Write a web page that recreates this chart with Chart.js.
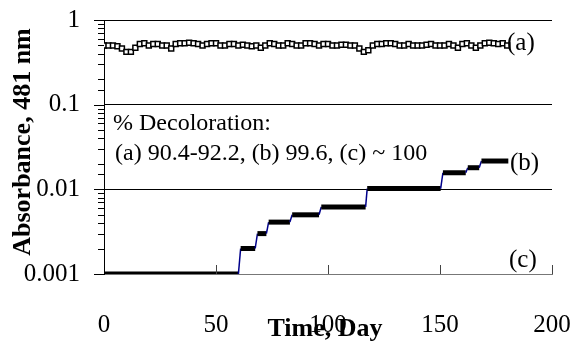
<!DOCTYPE html>
<html>
<head>
<meta charset="utf-8">
<script src="https://cdn.jsdelivr.net/npm/chart.js@4"></script>
<style>
  html, body { margin: 0; padding: 0; background: #fff; }
</style>
</head>
<body>
<canvas id="chart" width="574" height="353"></canvas>
<script>
// Series (a): absorbance over time, roughly flat near 0.5
const daysA = [0, 2, 4, 6, 8, 10, 12, 14, 16, 18, 20, 22, 24, 26, 28, 30, 32, 34, 36, 38,
  40, 42, 44, 46, 48, 50, 52, 54, 56, 58, 60, 62, 64, 66, 68, 70, 72, 74, 76, 78,
  80, 82, 84, 86, 88, 90, 92, 94, 96, 98, 100, 102, 104, 106, 108, 110, 112, 114, 116, 118,
  120, 122, 124, 126, 128, 130, 132, 134, 136, 138, 140, 142, 144, 146, 148, 150, 152, 154, 156, 158,
  160, 162, 164, 166, 168, 170, 172, 174, 176, 178, 180];
const absA = [0.5, 0.5, 0.5, 0.49, 0.46, 0.42, 0.42, 0.47, 0.52, 0.53, 0.5, 0.52, 0.52, 0.5, 0.5, 0.46, 0.52, 0.53, 0.53, 0.54,
  0.53, 0.52, 0.5, 0.52, 0.53, 0.53, 0.5, 0.5, 0.52, 0.52, 0.5, 0.51, 0.5, 0.49, 0.5, 0.47, 0.5, 0.53, 0.52, 0.5,
  0.5, 0.53, 0.52, 0.5, 0.5, 0.53, 0.53, 0.52, 0.5, 0.52, 0.52, 0.5, 0.5, 0.51, 0.51, 0.5, 0.5, 0.46, 0.42, 0.44,
  0.5, 0.52, 0.52, 0.53, 0.53, 0.52, 0.5, 0.5, 0.52, 0.5, 0.5, 0.5, 0.51, 0.52, 0.5, 0.5, 0.5, 0.52, 0.5, 0.47,
  0.52, 0.53, 0.5, 0.47, 0.5, 0.53, 0.54, 0.53, 0.52, 0.53, 0.5];

// Series (b): stepwise rise from 0.001
const daysB = [0, 60, 61, 67.5, 68.5, 72.5, 73.5, 83, 84, 96, 97, 116.8, 117.5, 150.3, 151.3, 161.5, 162.4, 167.5, 168.5, 180.5];
const absB = [0.001, 0.001, 0.002, 0.002, 0.003, 0.003, 0.0041, 0.0041, 0.005, 0.005, 0.0062, 0.0062,
  0.0102, 0.0102, 0.0157, 0.0157, 0.018, 0.018, 0.0216, 0.0216];

const xTicks = [0, 50, 100, 150, 200];
const yTicks = [0.001, 0.01, 0.1, 1];

function isDecade(v) {
  const l = Math.log10(v);
  return Math.abs(l - Math.round(l)) < 1e-6;
}

const FONT = '"Liberation Serif", "Times New Roman", serif';

// extra drawing: tick marks, notes and axis titles
const extras = {
  id: 'extras',
  afterDraw(chart) {
    const { ctx, chartArea } = chart;
    const x = chart.scales.x;
    const y = chart.scales.y;
    ctx.save();
    ctx.lineWidth = 1;

    // x ticks point up into the plot
    ctx.strokeStyle = '#444';
    xTicks.forEach(v => {
      if (v === 0) return;
      const px = Math.round(x.getPixelForValue(v)) + 0.5;
      ctx.beginPath();
      ctx.moveTo(px, chartArea.bottom);
      ctx.lineTo(px, chartArea.bottom - 9);
      ctx.stroke();
    });

    // y ticks, long at decades, short in between
    ctx.strokeStyle = '#000';
    y.ticks.forEach(t => {
      const py = Math.round(y.getPixelForValue(t.value)) + 0.5;
      const len = isDecade(t.value) ? 10 : 6;
      ctx.beginPath();
      ctx.moveTo(chartArea.left - len, py);
      ctx.lineTo(chartArea.left, py);
      ctx.stroke();
    });

    ctx.fillStyle = '#000';
    ctx.textBaseline = 'middle';
    ctx.textAlign = 'left';
    ctx.font = '24px ' + FONT;
    ctx.fillText('% Decoloration:', 113, 124);
    ctx.fillText('(a) 90.4-92.2, (b) 99.6, (c) ~ 100', 115, 154);

    ctx.font = '25px ' + FONT;
    ctx.fillText('(a)', 507, 43);
    ctx.fillText('(b)', 510, 163);
    ctx.fillText('(c)', 509, 260);

    ctx.font = 'bold 26px ' + FONT;
    ctx.textAlign = 'center';
    ctx.fillText('Time, Day', 325, 329);
    ctx.translate(23, 142);
    ctx.rotate(-Math.PI / 2);
    ctx.fillText('Absorbance, 481 nm', 0, 0);
    ctx.restore();
  }
};

new Chart(document.getElementById('chart'), {
  type: 'line',
  data: {
    datasets: [
      {
        label: '(a)',
        data: daysA.map((d, i) => ({ x: d, y: absA[i] })),
        borderColor: '#000',
        borderWidth: 2.5,
        pointStyle: 'rect',
        pointRadius: 3.5,
        pointBorderWidth: 1.5,
        pointBorderColor: '#000',
        pointBackgroundColor: '#fff',
        tension: 0
      },
      {
        label: '(b)',
        data: daysB.map((d, i) => ({ x: d, y: absB[i] })),
        borderColor: '#000',
        borderWidth: 5,
        pointRadius: 0,
        borderCapStyle: 'butt',
        segment: {
          borderColor: c => c.p0.parsed.y === c.p1.parsed.y ? '#000' : '#00008b',
          borderWidth: c => c.p0.parsed.y === c.p1.parsed.y ? 5 : 1.5
        }
      }
    ]
  },
  options: {
    responsive: false,
    animation: false,
    layout: { padding: { top: 20, right: 22, left: 0, bottom: 0 } },
    plugins: { legend: { display: false }, tooltip: { enabled: false } },
    scales: {
      x: {
        type: 'linear',
        min: 0,
        max: 200,
        afterBuildTicks: s => { s.ticks = xTicks.map(v => ({ value: v })); },
        afterFit: s => { s.height = 79; },
        grid: { drawOnChartArea: false, drawTicks: true, tickLength: 36, tickColor: 'rgba(0,0,0,0)' },
        border: { color: '#777', width: 1 },
        ticks: {
          padding: 0,
          maxRotation: 0,
          color: '#000',
          font: { family: FONT, size: 25 }
        }
      },
      y: {
        type: 'logarithmic',
        min: 0.001,
        max: 1,
        afterFit: s => { s.width = 104; },
        grid: {
          color: c => (c.tick && isDecade(c.tick.value) && c.tick.value > 0.0015) ? '#000' : 'rgba(0,0,0,0)',
          tickColor: 'rgba(0,0,0,0)',
          tickLength: 24,
          lineWidth: 1
        },
        border: { color: '#000', width: 1 },
        ticks: {
          autoSkip: false,
          padding: 0,
          color: '#000',
          font: { family: FONT, size: 25 },
          callback: v => (isDecade(v) && yTicks.some(t => Math.abs(t - v) / t < 1e-6)) ? String(+v.toPrecision(3)) : ''
        }
      }
    }
  },
  plugins: [extras]
});
</script>
</body>
</html>
